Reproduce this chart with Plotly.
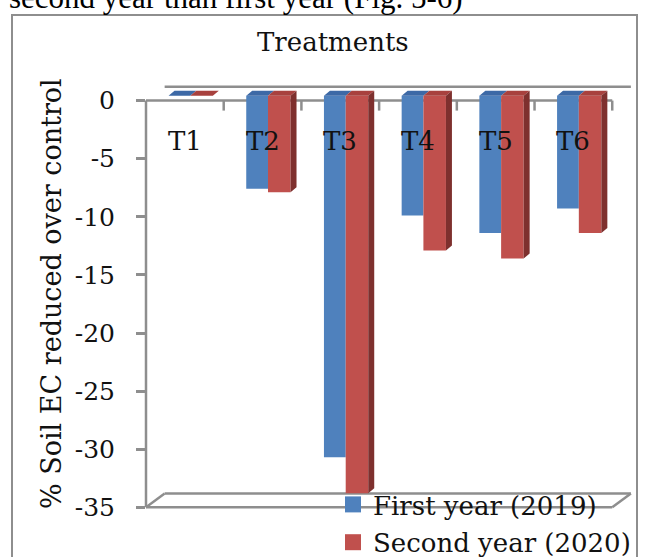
import plotly.graph_objects as go

# ---------------- data ----------------
categories = ["T1", "T2", "T3", "T4", "T5", "T6"]
series_names = ["First year (2019)", "Second year (2020)"]
first_year = [0.0, -8.0, -31.1, -10.3, -11.8, -9.7]
second_year = [0.0, -8.3, -34.2, -13.3, -14.0, -11.8]
y_tick_vals = [0, -5, -10, -15, -20, -25, -30, -35]
y_tick_text = ["0", "-5", "-10", "-15", "-20", "-25", "-30", "-35"]
axis_title = "% Soil EC reduced over control"
chart_title = "Treatments"
doc_text = "second year than first year (Fig. 5-6)"

# ---------------- layout constants ----------------
W, H = 645, 557
ML, MR, MT, MB = 146, 11, 82, 45
X_RANGE = [-0.5, 5.78]
Y_RANGE = [-35.4, 1.6]
PW = W - ML - MR
PH = H - MT - MB

def px_x(px):
    return (px - ML) / PW

def px_y(py):
    return (H - MB - py) / PH

BLUE, RED = "#4F81BD", "#C0504D"
BLUE_TOP, RED_TOP = "#3D69A6", "#A8413E"
RED_SIDE = "#7E302E"
GREY = "#8E8E8E"
SERIF = "DejaVu Serif"

BAR_W = [0.28, 0.29]
BAR_OFF = [-0.21, 0.07]
SHIFT = 0.41          # projection of bars placed mid-depth
BDX, BDY = 0.077, 0.43  # bar depth
WDX, WDY = 0.24, 1.2    # wall / floor depth

idx = list(range(len(categories)))
fig = go.Figure()

series = [first_year, second_year]
colors = [BLUE, RED]
for s, vals in enumerate(series):
    fig.add_trace(go.Bar(
        x=idx, y=vals, base=SHIFT, offset=BAR_OFF[s], width=BAR_W[s],
        marker=dict(color=colors[s], line=dict(width=0)),
        showlegend=False, hoverinfo="skip"))

# top faces
for s, col in enumerate([BLUE_TOP, RED_TOP]):
    xs, ys = [], []
    for i in idx:
        x0 = i + BAR_OFF[s]
        x1 = x0 + BAR_W[s]
        xs += [x0, x1, x1 + BDX, x0 + BDX, x0, None]
        ys += [SHIFT, SHIFT, SHIFT + BDY, SHIFT + BDY, SHIFT, None]
    fig.add_trace(go.Scatter(x=xs, y=ys, mode="lines", fill="toself",
                             fillcolor=col, line=dict(width=0, color=col),
                             showlegend=False, hoverinfo="skip"))

# red side faces
xs, ys = [], []
for i, v in zip(idx, second_year):
    x1 = i + BAR_OFF[1] + BAR_W[1]
    xs += [x1, x1 + BDX, x1 + BDX, x1, x1, None]
    ys += [SHIFT, SHIFT + BDY, SHIFT + v + BDY, SHIFT + v, SHIFT, None]
fig.add_trace(go.Scatter(x=xs, y=ys, mode="lines", fill="toself",
                         fillcolor=RED_SIDE, line=dict(width=0, color=RED_SIDE),
                         showlegend=False, hoverinfo="skip"))

# legend entries
for name, col in zip(series_names, colors):
    fig.add_trace(go.Scatter(x=[None], y=[None], mode="markers", name=name,
                             legendgroup=name,
                             marker=dict(symbol="square", size=16, color=col)))

# ---------------- frame lines ----------------
shapes = []
def seg(x0, y0, x1, y1, xref="x", yref="y", w=2.5):
    shapes.append(dict(type="line", x0=x0, y0=y0, x1=x1, y1=y1, xref=xref,
                       yref=yref, line=dict(color=GREY, width=w), layer="below"))

n = len(categories)
left, right = -0.5, n - 0.5
ymin = y_tick_vals[-1]
seg(left, 0, right, 0)
for k in range(1, n + 1):
    seg(left + k, 0, left + k, -0.86)
seg(left + WDX, WDY, right + WDX, WDY)
seg(left, ymin, right, ymin)
seg(left + WDX, ymin + WDY, right + WDX, ymin + WDY)
seg(left, ymin, left + WDX, ymin + WDY)
seg(right, ymin, right + WDX, ymin + WDY)
seg(0, 0, 0, ymin, xref="paper")

# outer box of the figure in the page
shapes.append(dict(type="rect", xref="paper", yref="paper",
                   x0=px_x(12), x1=px_x(637), y0=px_y(15), y1=px_y(620),
                   line=dict(color=GREY, width=2), fillcolor="rgba(0,0,0,0)",
                   layer="below"))

annotations = [
    dict(text=chart_title, xref="paper", yref="paper", x=px_x(333), y=px_y(42),
         xanchor="center", yanchor="middle", showarrow=False,
         font=dict(family=SERIF, size=26, color="#111")),
    dict(text=axis_title, xref="paper", yref="paper", x=px_x(51), y=px_y(294),
         xanchor="center", yanchor="middle", textangle=-90, showarrow=False,
         font=dict(family=SERIF, size=27, color="#111")),
    dict(text=doc_text, xref="paper", yref="paper", x=px_x(7), y=px_y(-2),
         xanchor="left", yanchor="middle", showarrow=False,
         font=dict(family="Liberation Serif", size=31, color="#000")),
]
for i, c in zip(idx, categories):
    annotations.append(dict(text=c, xref="x", yref="y", x=i, y=-3.48,
                            xanchor="center", yanchor="middle", showarrow=False,
                            font=dict(family=SERIF, size=26, color="#111")))

fig.update_layout(
    width=W, height=H,
    margin=dict(l=ML, r=MR, t=MT, b=MB, pad=0, autoexpand=False),
    paper_bgcolor="white", plot_bgcolor="rgba(0,0,0,0)",
    barmode="overlay",
    xaxis=dict(range=X_RANGE, visible=False, fixedrange=True),
    yaxis=dict(range=Y_RANGE, tickmode="array", tickvals=y_tick_vals,
               ticktext=y_tick_text, ticks="outside", ticklen=9, tickwidth=2.5,
               tickcolor=GREY, showline=False, showgrid=False, zeroline=False,
               ticklabelstandoff=16, fixedrange=True,
               tickfont=dict(family=SERIF, size=25, color="#111")),
    showlegend=True,
    legend=dict(x=px_x(333), y=px_y(481), xanchor="left", yanchor="top",
                bgcolor="rgba(0,0,0,0)", traceorder="grouped", tracegroupgap=1,
                font=dict(family=SERIF, size=26, color="#111")),
    shapes=shapes, annotations=annotations,
)

fig.write_html("out.html", config={"displayModeBar": False},
               post_script="document.body.style.margin='0';")
